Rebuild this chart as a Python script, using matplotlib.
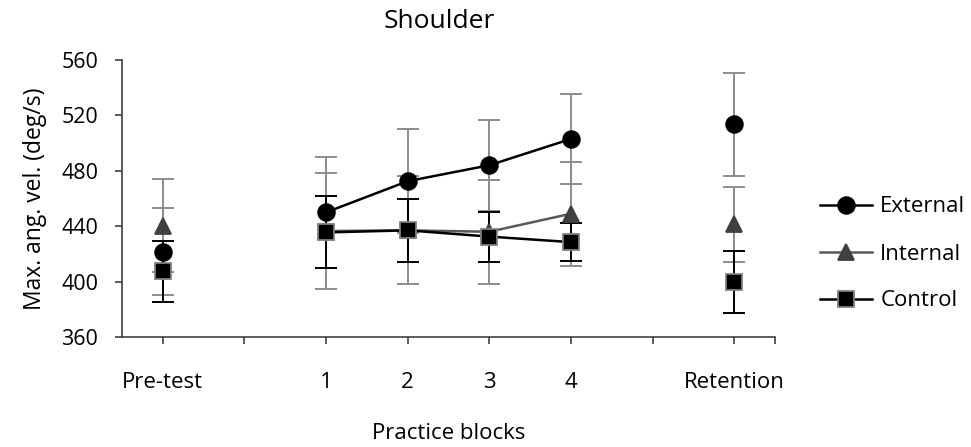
import numpy as np
import matplotlib
matplotlib.use("Agg")
import matplotlib.pyplot as plt

plt.rcParams['font.family'] = ['Open Sans', 'DejaVu Sans']

# Valeurs (NaN = emplacement vide sur l'axe)
nan = np.nan
categories = ["Pre-test", "", "1", "2", "3", "4", "", "Retention"]
external = [421.5, nan, 450, 472.5, 484, 503, nan, 513.5]
external_err = [31.5, nan, 40, 37.5, 33, 32.5, nan, 37]
internal = [440.5, nan, 436.5, 437, 436, 449, nan, 441.5]
internal_err = [33.5, nan, 42, 39, 37.5, 37.5, nan, 27]
control = [407.5, nan, 435.5, 437, 432.5, 428.5, nan, 399.5]
control_err = [22, nan, 26, 23, 18, 13.5, nan, 22.5]

x = np.arange(len(categories))
axis_col = "#404040"

fig = plt.figure(figsize=(9.71, 4.47), dpi=100)
ax = fig.add_axes([122/971, 1-337/447, (775-122)/971, (337-60)/447])

series = [
    ("External", external, external_err, "#8c8c8c", "black", "o", 12, "black", "black"),
    ("Internal", internal, internal_err, "#8c8c8c", "#595959", "^", 11, "#404040", "#404040"),
    ("Control", control, control_err, "black", "black", "s", 11, "black", "#808080"),
]
# barres d'erreur d'abord, puis lignes + marqueurs au-dessus
for i, (name, y, err, ecol, lcol, mk, ms, mfc, mec) in enumerate(series):
    y = np.array(y, dtype=float)
    err = np.array(err, dtype=float)
    ok = ~np.isnan(y)
    ax.errorbar(x[ok], y[ok], yerr=err[ok], fmt="none", ecolor=ecol,
                elinewidth=1.4, capsize=8, capthick=1.4, zorder=2 + 0.1 * i)
for i, (name, y, err, ecol, lcol, mk, ms, mfc, mec) in enumerate(series):
    ax.plot(x, y, color=lcol, lw=1.8, marker=mk, ms=ms, mfc=mfc, mec=mec,
            mew=1.3, label=name, zorder=3 + 0.1 * i)

ax.set_xlim(-0.5, 7.5)
ax.set_ylim(360, 560)
ax.set_yticks(np.arange(360, 561, 40))
ax.set_xticks(list(x) + [7.5])
ax.set_xticklabels(categories + [""])

for s in ["top", "right"]:
    ax.spines[s].set_visible(False)
for s in ["left", "bottom"]:
    ax.spines[s].set_color(axis_col)
    ax.spines[s].set_linewidth(1.2)
ax.tick_params(axis="y", direction="out", length=5, width=1.2, color=axis_col,
               labelsize=15.5, pad=12)
ax.tick_params(axis="x", direction="out", length=5, width=1.2, color=axis_col,
               labelsize=16, pad=20)

ax.set_ylabel("Max. ang. vel. (deg/s)", fontsize=16.5, labelpad=10)
ax.set_xlabel("Practice blocks", fontsize=16, labelpad=22)
fig.text(439/971, 1-22/447, "Shoulder", ha="center", va="center", fontsize=19)

ax.legend(loc="center left", bbox_to_anchor=(820/971, 1-254/447),
          bbox_transform=fig.transFigure, frameon=False, fontsize=16,
          handlelength=2.35, handletextpad=0.36, labelspacing=1.17,
          borderpad=0, borderaxespad=0)

fig.savefig("out.png", dpi=100)
